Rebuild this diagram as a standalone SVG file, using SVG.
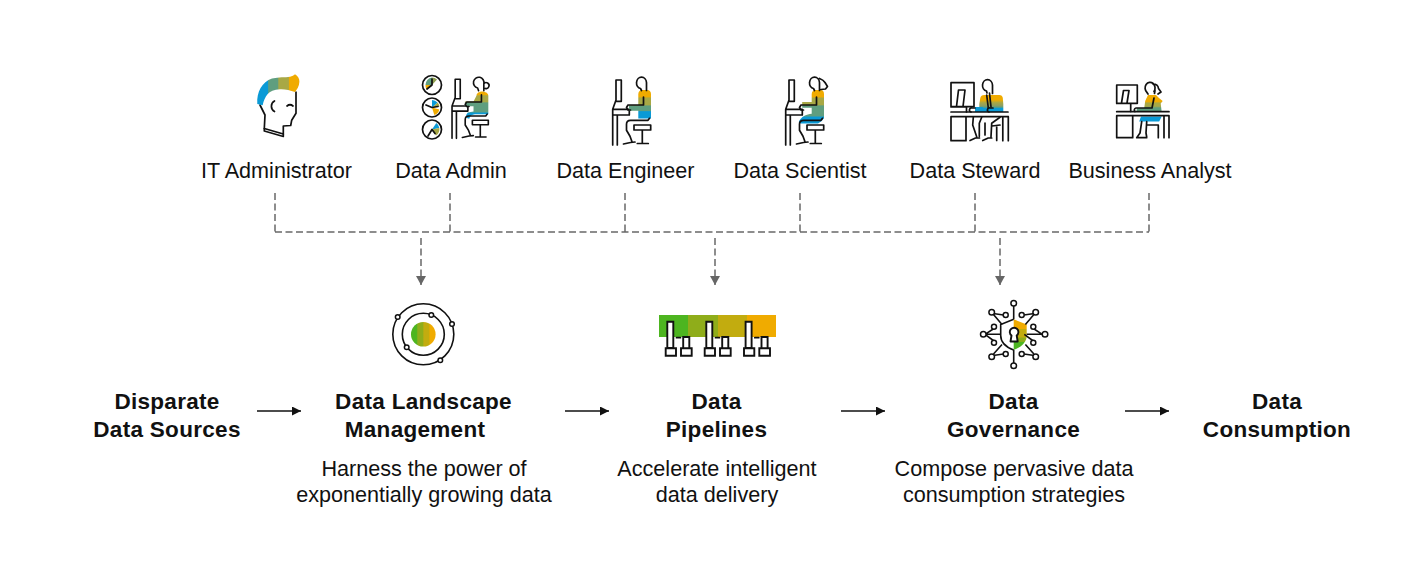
<svg xmlns="http://www.w3.org/2000/svg" xmlns:xlink="http://www.w3.org/1999/xlink" width="1426" height="575" viewBox="0 0 1426 575">
<style>
text{font-family:"Liberation Sans",Arial,sans-serif;fill:#111;text-anchor:middle}
.r{font-size:21.6px}
.b{font-size:22.5px;font-weight:700;letter-spacing:.3px}
.k{fill:none;stroke:#111;stroke-width:1.7;stroke-linecap:round;stroke-linejoin:round}
.w{fill:#fff;stroke:#111;stroke-width:1.9}
.d{fill:none;stroke:#686868;stroke-width:1.5;stroke-dasharray:7 3.5}
.s{fill:none;stroke:#111;stroke-width:1.6}
.n{fill:#fff;stroke:#111;stroke-width:1.5}
</style>
<defs>
<marker id="ag" markerUnits="userSpaceOnUse" markerWidth="10" markerHeight="10" refX="9" refY="5" orient="auto"><path d="M0 0L9 5L0 10Z" fill="#666"/></marker>
<marker id="ab" markerUnits="userSpaceOnUse" markerWidth="10" markerHeight="10" refX="9" refY="4.5" orient="auto"><path d="M0 0L9 4.5L0 9Z" fill="#111"/></marker>
<linearGradient id="hair" x1="0" y1="0" x2="1" y2="0">
<stop offset="0" stop-color="#0a9ad6"/><stop offset=".25" stop-color="#0a9ad6"/><stop offset=".27" stop-color="#5f9e7f"/><stop offset=".49" stop-color="#5f9e7f"/><stop offset=".51" stop-color="#a8a845"/><stop offset=".74" stop-color="#a8a845"/><stop offset=".76" stop-color="#f0ab00"/><stop offset="1" stop-color="#f0ab00"/>
</linearGradient>
<linearGradient id="torso" gradientUnits="userSpaceOnUse" x1="0" y1="90" x2="0" y2="118.500">
<stop offset="0" stop-color="#f0ab00"/><stop offset=".24" stop-color="#f0ab00"/><stop offset=".28" stop-color="#a8a845"/><stop offset=".52" stop-color="#a8a845"/><stop offset=".56" stop-color="#5f9e7f"/><stop offset=".72" stop-color="#5f9e7f"/><stop offset=".76" stop-color="#0a9ad6"/><stop offset="1" stop-color="#0a9ad6"/>
</linearGradient>
<linearGradient id="torso2" gradientUnits="userSpaceOnUse" x1="0" y1="90" x2="0" y2="124">
<stop offset="0" stop-color="#f0ab00"/><stop offset=".2" stop-color="#f0ab00"/><stop offset=".24" stop-color="#a8a845"/><stop offset=".43" stop-color="#a8a845"/><stop offset=".47" stop-color="#5f9e7f"/><stop offset=".76" stop-color="#5f9e7f"/><stop offset=".8" stop-color="#0a9ad6"/><stop offset="1" stop-color="#0a9ad6"/>
</linearGradient>
<linearGradient id="torso3" gradientUnits="userSpaceOnUse" x1="0" y1="95" x2="0" y2="112">
<stop offset="0" stop-color="#f0ab00"/><stop offset=".3" stop-color="#f0ab00"/><stop offset=".45" stop-color="#a8a845"/><stop offset=".62" stop-color="#8f9f5f"/><stop offset=".72" stop-color="#5f9e7f"/><stop offset=".78" stop-color="#0a9ad6"/><stop offset="1" stop-color="#0a9ad6"/>
</linearGradient>
<linearGradient id="torso4" gradientUnits="userSpaceOnUse" x1="0" y1="95" x2="0" y2="112">
<stop offset="0" stop-color="#f0ab00"/><stop offset=".38" stop-color="#f0ab00"/><stop offset=".48" stop-color="#a8a845"/><stop offset=".66" stop-color="#a8a845"/><stop offset=".76" stop-color="#5f9e7f"/><stop offset="1" stop-color="#5f9e7f"/>
</linearGradient>
<linearGradient id="core" x1="0" y1="0" x2="1" y2="0">
<stop offset="0" stop-color="#4db520"/><stop offset=".22" stop-color="#4db520"/><stop offset=".28" stop-color="#8fad1a"/><stop offset=".47" stop-color="#8fad1a"/><stop offset=".53" stop-color="#c2ac0f"/><stop offset=".72" stop-color="#c2ac0f"/><stop offset=".78" stop-color="#f0ab00"/><stop offset="1" stop-color="#f0ab00"/>
</linearGradient>
<linearGradient id="shield" x1="0" y1="0" x2="0" y2="1">
<stop offset="0" stop-color="#f0ab00"/><stop offset=".3" stop-color="#f0ab00"/><stop offset=".33" stop-color="#c2ac0f"/><stop offset=".58" stop-color="#c2ac0f"/><stop offset=".61" stop-color="#8fad1a"/><stop offset=".72" stop-color="#8fad1a"/><stop offset=".75" stop-color="#4db520"/><stop offset="1" stop-color="#4db520"/>
</linearGradient>
<g id="desk">
<path class="k" d="M616 80h5.300v21.300h-4.600M616 80v20l-3.300 9.300M612.700 109.300h16.600v5.700h-16.600zM612.700 115v30M617.300 115v30"/>
<path class="k" d="M634 125h16.700v5h-16.700zM642.300 130v13.500M637.300 143.500h11"/>
</g>
<g id="low">
<path class="k" d="M649.500 118.300l-1.500 2h-17.500q-4 0-4 4v6l3.500 6 2 5.500M623.500 144l7-1.500 4.500-.5"/>
<path class="k" d="M631 105h12.500v-8M631 105h-3l-1.500 2.500 1.500 2.500h2.500"/>
</g>
</defs>

<g id="connectors">
<path class="d" d="M275 193V232M450 193V232M625 193V232M800 193V232M975 193V232M1149 193V232M275 232H1149"/>
<path class="d" d="M421 238V285" marker-end="url(#ag)"/>
<path class="d" d="M715 238V285" marker-end="url(#ag)"/>
<path class="d" d="M1000 238V285" marker-end="url(#ag)"/>
<path class="s" d="M257 411H301" marker-end="url(#ab)"/>
<path class="s" d="M565 411H609" marker-end="url(#ab)"/>
<path class="s" d="M841 411H885" marker-end="url(#ab)"/>
<path class="s" d="M1125 411H1169" marker-end="url(#ab)"/>
</g>

<g id="it-admin">
<path class="k" d="M260 105l5 10-.7 13.500 19 5.500v-8l7.400-.5 1-5.300 4.300-7V92"/>
<path class="k" d="M264.300 131l19 5.500v-2.500M264.300 128.500v2.500M274.500 101a6 6 0 0 0 0 10.500M287 106q3-2.500 6 0"/>
<path fill="url(#hair)" d="M257.300 104C256.500 92 262 82 272 78.500c7-1.800 13-.8 18-1.800 2-.5 4-1.500 5-2.500 3 1.500 4.500 4.500 4.400 7.500-.2 4.500-2.500 8-4.400 10.300-5-1.500-10-3-15-2.700-6 .2-10 2-12.500 5-2.300 3-4 6.500-4.800 11z"/>
<text class="r" x="276.500" y="178">IT Administrator</text>
</g>

<g id="data-admin">
<circle class="k" cx="432" cy="85" r="9.500"/><circle class="k" cx="432" cy="107.500" r="9.500"/><circle class="k" cx="432" cy="129.500" r="9.500"/>
<path fill="#8f9f4f" d="M432 85v-7.500a7.500 7.500 0 0 1 5 2z"/><path fill="#f0ab00" d="M432 85l-5.500 4.500a7.500 7.500 0 0 1 -1-4.500z"/><path fill="#5f9e7f" d="M432 85l-6.500 0a7.500 7.500 0 0 1 6.500-7.500z"/>
<path fill="#f0ab00" d="M432 107.500l7.300 2a7.500 7.500 0 0 1-5 5.500z"/><path fill="#a8a845" d="M432 107.500l7.500-1a7.500 7.500 0 0 0-2-4z"/><path fill="#0a9ad6" d="M432 107.500v-7.500a7.500 7.500 0 0 1 5.500 2.500z"/>
<path fill="#0a9ad6" d="M432 129.500l7.300-1.500a7.500 7.500 0 0 0-3-5z"/><path fill="#a8a845" d="M432 129.500l4 6a7.500 7.500 0 0 0 3.300-7.500z"/>
<path class="k" d="M432 79v6l-5 4M426 105l6 2.500 6-1M428 136l4-6.500 3 4"/>
<g transform="matrix(.955 0 0 .908 -133.100 6.700)">
<use xlink:href="#desk" href="#desk"/>
<path fill="url(#torso2)" d="M638.300 98c0-3 3-4.700 6-4.700s6.400 1.700 6.400 4.700v20.500h-14q-5 .5-6 5-6-1-1.500-7l6-1v-6h-9v-5h9z"/>
<use xlink:href="#low" href="#low"/>
<path class="k" d="M646 92.500V85a5.500 6 0 1 0-6.500 4.500l1 3M646 85a3 3.300 0 1 1 1.500 5"/>
</g>
<text class="r" x="451" y="178">Data Admin</text>
</g>

<g id="data-engineer">
<use xlink:href="#desk" href="#desk"/>
<path fill="url(#torso)" d="M638.300 94c0-2.500 2-4 4-4h5c2 0 3.700 1.500 3.700 4v24.500h-12.700v-7.800h-9.300v-5.700h9.300z"/>
<use xlink:href="#low" href="#low"/>
<path class="k" d="M646.500 90.500V82.500a5 5.700 0 1 0-6 6l1 2"/>
<text class="r" x="625.500" y="178">Data Engineer</text>
</g>

<g id="data-scientist">
<use xlink:href="#desk" href="#desk" x="173"/>
<path fill="url(#torso2)" d="M811.700 94c0-2.500 2-4 4-4h5c2 0 3.300 1.500 3.300 4v24l-2.300 3-3.700 2.500h-17c-3.500 0-2-3 0-5 2-2.500 5-4 10.700-4.800v-6h-9.500v-5.700h9.500z"/>
<use xlink:href="#low" href="#low" x="173"/>
<path class="k" d="M819.500 90.500V82.500a5 5.700 0 1 0-6 6l1 2M819.500 78.500q4 1.500 5.500 4l2.500 4-2 2.500-4.500 .5"/>
<text class="r" x="800" y="178">Data Scientist</text>
</g>

<g id="data-steward">
<path class="k" d="M951 82.700h23v24h-23zM958.500 90h6.500l-2 16.500M958.500 90l-2 16.500M951 107h15.500v5"/>
<path fill="url(#torso3)" d="M979.300 104l1-6q.5-3 4-3h15q3 0 3.500 3l.5 6v8h-24z"/>
<path fill="#0a9ad6" d="M975 107h8v5h-8z"/>
<path class="k" d="M971 112a2 2 0 0 1 1-4h3M989 112a2 2 0 0 1 1-4h3M992.500 93.500V85a5 5.700 0 1 0-6 6l.5 2"/>
<path class="k" d="M986.700 95l1.600 13M989.500 93l1.500 14"/>
<path class="k" d="M951 112h57M951 116.700h57M951 116.700v24h15v-24M1002.800 116.700v24M1008.300 116.700v24"/>
<path class="k" d="M973.300 117.300l-.6 7.700 4 11.700M970 140.500l5.500-2.500 4 0M981.700 117.300l-2.400 6v13M985 123v12M1000 117.300l-8.300 6-.7 13.400M982.700 140.500l5.500-2.500 3.500 0M1000 125l-8 1M996.700 125.500v15"/>
<text class="r" x="975" y="178">Data Steward</text>
</g>

<g id="business-analyst">
<path class="k" d="M1116.700 85h20.600v18.300h-20.600zM1123.500 90.500h5.500l-2 12.500M1123.500 90.500l-2 12.500M1116.700 103.500h14v8"/>
<path fill="url(#torso4)" d="M1148 95h8l3 3 3.700 3-2 2.500 1 8.500h-18l1.500-11z"/>
<path fill="#5f9e7f" d="M1136.700 108h9v3.500h-9z"/>
<path fill="#0a9ad6" d="M1141 116.500h20.700l-2.500 5h-20z"/>
<path class="k" d="M1135 111.500a2 2 0 0 1 1-3.500h16l2-10M1155 90.500l-.5 3M1148 94l-1-1.500a5 5.700 0 1 1 7-1M1153 84q5 0 5.500 4.500l2.500 3.500-3 2"/>
<path class="k" d="M1116.700 111.700h52.300M1116.700 115.700h52.300M1116.700 115.700v22h16v-22M1164 115.700v22M1169 115.700v22"/>
<path class="k" d="M1141.700 121.700l-1.700 11.300-3.300 4.700h10M1146.700 121.700l-.7 11.300.7 4M1147.300 125h11v12.700"/>
<text class="r" x="1150" y="178">Business Analyst</text>
</g>

<g id="data-sources">
<text class="b" x="167" y="409">Disparate</text>
<text class="b" x="167" y="437">Data Sources</text>
</g>

<g id="data-landscape">
<circle class="s" cx="423.300" cy="334.300" r="30.500"/><circle class="s" cx="423.300" cy="334.300" r="21"/>
<circle cx="423.300" cy="334.300" r="12.300" fill="url(#core)"/>
<circle class="n" cx="397.700" cy="317" r="2.300"/><circle class="n" cx="431.300" cy="315" r="2.300"/><circle class="n" cx="452" cy="324" r="2.300"/><circle class="n" cx="406.700" cy="347.300" r="2.300"/><circle class="n" cx="440.300" cy="360.300" r="2.300"/>
<text class="b" x="423.500" y="409">Data Landscape</text>
<text class="b" x="415" y="437">Management</text>
<text class="r" x="424" y="476">Harness the power of</text>
<text class="r" x="424" y="502">exponentially growing data</text>
</g>

<g id="data-pipelines">
<rect x="659" y="315" width="29" height="22" fill="#4db520"/><rect x="688" y="315" width="30" height="22" fill="#8fad1a"/><rect x="718" y="315" width="29" height="22" fill="#c2ac0f"/><rect x="747" y="315" width="29" height="22" fill="#f0ab00"/>
<g id="pipe-a"><path class="w" d="M667.300 321.700h6v26.300h-6zM665.700 348.300h10.300v7.400h-10.300zM681 348.300h10.700v7.400H681zM683.200 337h6.100v11.300h-6.100z"/><path class="k" d="M676.500 337.700h4"/></g>
<use xlink:href="#pipe-a" href="#pipe-a" x="39"/>
<use xlink:href="#pipe-a" href="#pipe-a" x="78.300"/>
<text class="b" x="716.500" y="409">Data</text>
<text class="b" x="716.500" y="437">Pipelines</text>
<text class="r" x="717" y="476">Accelerate intelligent</text>
<text class="r" x="717" y="502">data delivery</text>
</g>

<g id="data-governance">
<path fill="url(#shield)" d="M1013.700 319.300l13 5.200v11c0 6.500-5 11.500-13 14.500z"/>
<path class="s" d="M1013.700 319.300l-13 5.200v11c0 6.500 5 11.500 13 14.500"/>
<path class="s" d="M1013.700 306v13.300M1013.700 350v13M986 334.300h14.700M1026.700 334.300h15.700M993.500 314.500l8.500 10M1033.900 314.500l-8.500 10M993.500 354l8.500-9.500M1033.900 354l-8.500-9.500M993 313.500l10.500 1.500M1034.400 313.500l-10.500 1.500M993 355.500l10.500-1.500M1034.400 355.500l-10.500-1.500M994 328.500l-9 5.800M994 341l-9-6.700M1033.300 328.500l9 5.800M1033.300 341l-9-6.700"/>
<path class="k" d="M1011.500 335.500l-1 6h7.200l-1-6a4.300 4.300 0 1 0-5.200 0z" style="fill:#fff;stroke-width:1.9"/>
<g class="n">
<circle cx="1013.700" cy="303.300" r="2.800"/><circle cx="1013.700" cy="365.700" r="2.800"/><circle cx="983.300" cy="334.300" r="2.800"/><circle cx="1045" cy="334.300" r="2.800"/>
<circle cx="991.700" cy="312.300" r="2.800"/><circle cx="1005.700" cy="315" r="2.500"/><circle cx="1035.700" cy="312.300" r="2.800"/><circle cx="1021.700" cy="315" r="2.500"/>
<circle cx="991.700" cy="356.700" r="2.800"/><circle cx="1005.700" cy="354" r="2.500"/><circle cx="1035.700" cy="356.700" r="2.800"/><circle cx="1021.700" cy="354" r="2.500"/>
<circle cx="994" cy="326.700" r="2.500"/><circle cx="994" cy="342.700" r="2.500"/><circle cx="1033.300" cy="326.700" r="2.500"/><circle cx="1033.300" cy="342.700" r="2.500"/>
</g>
<text class="b" x="1013.500" y="409">Data</text>
<text class="b" x="1013.500" y="437">Governance</text>
<text class="r" x="1014" y="476">Compose pervasive data</text>
<text class="r" x="1014" y="502">consumption strategies</text>
</g>

<g id="data-consumption">
<text class="b" x="1277" y="409">Data</text>
<text class="b" x="1277" y="437">Consumption</text>
</g>
</svg>
